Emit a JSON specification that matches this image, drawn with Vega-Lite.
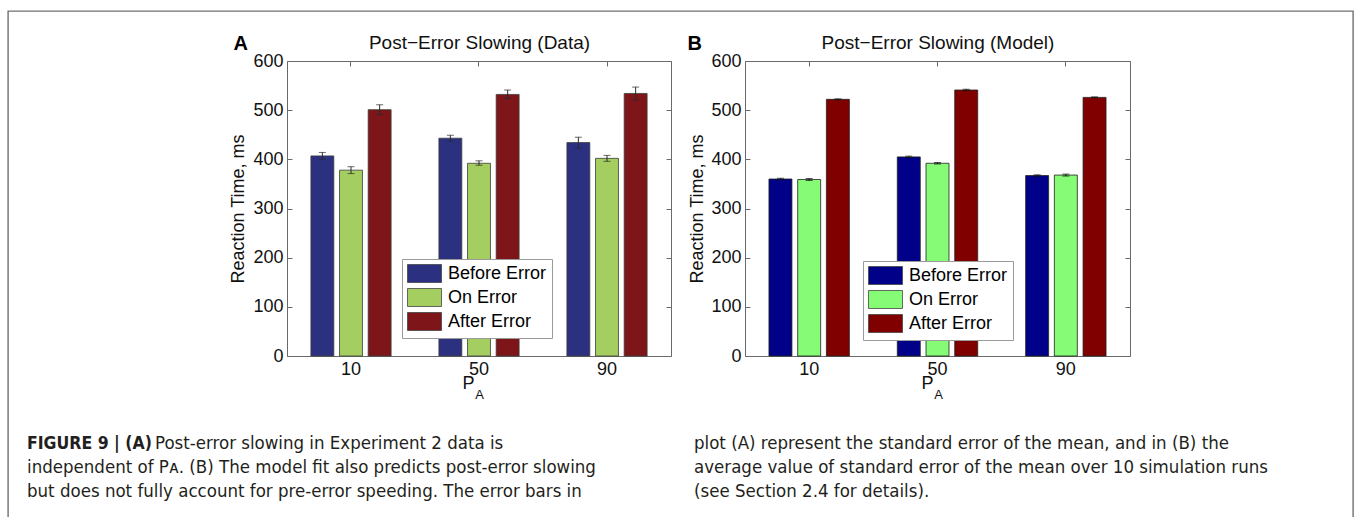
{
  "$schema": "https://vega.github.io/schema/vega-lite/v6.json",
  "width": 1345,
  "height": 520,
  "autosize": {"type": "none"},
  "padding": {"left": 8, "top": 11, "right": 1, "bottom": 0},
  "background": "white",
  "config": {
    "view": {"stroke": "#707070", "strokeWidth": 1.4},
    "font": "Liberation Sans",
    "axis": {
      "labelFont": "Liberation Sans", "labelFontSize": 18, "labelColor": "#111",
      "titleFont": "Liberation Sans", "titleFontSize": 18, "titleFontWeight": "normal", "titleColor": "#111",
      "domainColor": "#6a6a6a", "tickColor": "#6a6a6a", "grid": false,
      "tickSize": -5, "labelPadding": 9, "bandPosition": 0.5
    },
    "legend": {
      "orient": "none", "title": null,
      "symbolType": "M-1,-1H2.78V1H-1Z", "symbolSize": 324,
      "symbolStrokeColor": "#444", "symbolStrokeWidth": 0.8,
      "labelFont": "Liberation Sans", "labelFontSize": 18, "labelColor": "#000",
      "labelOffset": 22, "rowPadding": 1, "padding": 5,
      "strokeColor": "#9a9a9a", "fillColor": "white", "labelLimit": 300
    }
  },
  "datasets": {
    "rt": [
      {"panel": "Data", "pa": "10", "cond": "Before Error", "rt": 407, "lo": 400, "hi": 414},
      {"panel": "Data", "pa": "10", "cond": "On Error", "rt": 378, "lo": 371, "hi": 385},
      {"panel": "Data", "pa": "10", "cond": "After Error", "rt": 501, "lo": 491, "hi": 511},
      {"panel": "Data", "pa": "50", "cond": "Before Error", "rt": 443, "lo": 437, "hi": 449},
      {"panel": "Data", "pa": "50", "cond": "On Error", "rt": 392, "lo": 388, "hi": 397},
      {"panel": "Data", "pa": "50", "cond": "After Error", "rt": 532, "lo": 524, "hi": 541},
      {"panel": "Data", "pa": "90", "cond": "Before Error", "rt": 434, "lo": 423, "hi": 445},
      {"panel": "Data", "pa": "90", "cond": "On Error", "rt": 402, "lo": 396, "hi": 408},
      {"panel": "Data", "pa": "90", "cond": "After Error", "rt": 534, "lo": 521, "hi": 547},
      {"panel": "Model", "pa": "10", "cond": "Before Error", "rt": 360, "lo": 358.5, "hi": 361.5},
      {"panel": "Model", "pa": "10", "cond": "On Error", "rt": 359, "lo": 357, "hi": 361},
      {"panel": "Model", "pa": "10", "cond": "After Error", "rt": 522, "lo": 521, "hi": 523},
      {"panel": "Model", "pa": "50", "cond": "Before Error", "rt": 405, "lo": 403.5, "hi": 406.5},
      {"panel": "Model", "pa": "50", "cond": "On Error", "rt": 392, "lo": 390.5, "hi": 393.5},
      {"panel": "Model", "pa": "50", "cond": "After Error", "rt": 541, "lo": 539.5, "hi": 542.5},
      {"panel": "Model", "pa": "90", "cond": "Before Error", "rt": 367, "lo": 365.5, "hi": 368.5},
      {"panel": "Model", "pa": "90", "cond": "On Error", "rt": 368, "lo": 366, "hi": 370},
      {"panel": "Model", "pa": "90", "cond": "After Error", "rt": 526, "lo": 525, "hi": 527}
    ],
    "caption": [
      {"col": "left", "line": 1, "part": "lead", "text": "FIGURE 9 | (A)"},
      {"col": "left", "line": 1, "part": "rest", "text": "Post-error slowing in Experiment 2 data is"},
      {"col": "left", "line": 2, "part": "body", "text": "independent of Pᴀ. (B) The model fit also predicts post-error slowing"},
      {"col": "left", "line": 3, "part": "body", "text": "but does not fully account for pre-error speeding. The error bars in"},
      {"col": "right", "line": 1, "part": "body", "text": "plot (A) represent the standard error of the mean, and in (B) the"},
      {"col": "right", "line": 2, "part": "body", "text": "average value of standard error of the mean over 10 simulation runs"},
      {"col": "right", "line": 3, "part": "body", "text": "(see Section 2.4 for details)."}
    ]
  },
  "layer": [
    {
      "data": {"name": "rt"},
      "transform": [{"filter": "datum.panel === 'Data'"}],
      "layer": [
        {
          "mark": {"type": "bar", "stroke": "#3c3c3c", "strokeWidth": 0.8},
          "encoding": {
            "x": {"field": "pa", "type": "ordinal", "scale": {"range": [279, 663], "paddingInner": 0.36, "paddingOuter": 0.18},
                  "axis": {"orient": "bottom", "offset": -175, "labelAngle": 0, "title": "P", "titleX": 460, "titleY": 32, "titleAlign": "center", "titleBaseline": "alphabetic"}},
            "xOffset": {"field": "cond", "type": "nominal", "sort": ["Before Error", "On Error", "After Error"], "scale": {"paddingInner": 0.2, "paddingOuter": 0.03}},
            "y": {"field": "rt", "type": "quantitative", "scale": {"domain": [0, 600], "range": [345, 50], "nice": false},
                  "axis": {"orient": "left", "offset": -279, "values": [0, 100, 200, 300, 400, 500, 600], "title": "Reaction Time, ms", "titleAngle": 270, "titleX": -48.5, "titleY": 197.5, "titleAlign": "center", "titleBaseline": "middle"}},
            "color": {"field": "cond", "type": "nominal", "sort": ["Before Error", "On Error", "After Error"],
                      "scale": {"domain": ["Before Error", "On Error", "After Error"], "range": ["#2b3080", "#a4cf60", "#7d1519"]},
                      "legend": {"legendX": 394, "legendY": 248}}
          }
        },
        {
          "mark": {"type": "rule", "color": "#2a2a2a", "strokeWidth": 1},
          "encoding": {
            "x": {"field": "pa", "type": "ordinal",
                  "axis": {"orient": "top", "offset": -50, "labels": false, "title": "Post−Error Slowing (Data)", "titleFontSize": 19, "titleY": -13, "titleBaseline": "alphabetic"}},
            "xOffset": {"field": "cond", "type": "nominal", "sort": ["Before Error", "On Error", "After Error"]},
            "y": {"field": "lo", "type": "quantitative",
                  "axis": {"orient": "right", "offset": -682, "labels": false, "values": [0, 100, 200, 300, 400, 500, 600], "title": "A", "titleAngle": 0, "titleX": -438, "titleY": 38, "titleAlign": "left", "titleBaseline": "alphabetic", "titleFontWeight": "bold", "titleFontSize": 20, "titleColor": "#000"}},
            "y2": {"field": "hi"}
          }
        },
        {
          "mark": {"type": "tick", "color": "#2a2a2a", "size": 7, "thickness": 1},
          "encoding": {
            "x": {"field": "pa", "type": "ordinal",
                  "axis": {"orient": "bottom", "offset": -175, "labels": false, "ticks": false, "domain": false, "title": "A", "titleX": 471, "titleY": 42, "titleFontSize": 13, "titleAlign": "center", "titleBaseline": "alphabetic"}},
            "xOffset": {"field": "cond", "type": "nominal", "sort": ["Before Error", "On Error", "After Error"]},
            "y": {"field": "lo", "type": "quantitative", "axis": null}
          }
        },
        {
          "mark": {"type": "tick", "color": "#2a2a2a", "size": 7, "thickness": 1},
          "encoding": {
            "x": {"field": "pa", "type": "ordinal", "axis": null},
            "xOffset": {"field": "cond", "type": "nominal", "sort": ["Before Error", "On Error", "After Error"]},
            "y": {"field": "hi", "type": "quantitative", "axis": null}
          }
        }
      ],
      "resolve": {"axis": {"x": "independent", "y": "independent"}}
    },
    {
      "data": {"name": "rt"},
      "transform": [{"filter": "datum.panel === 'Model'"}],
      "layer": [
        {
          "mark": {"type": "bar", "stroke": "#222", "strokeWidth": 0.8},
          "encoding": {
            "x": {"field": "pa", "type": "ordinal", "scale": {"range": [737, 1122], "paddingInner": 0.36, "paddingOuter": 0.18},
                  "axis": {"orient": "bottom", "offset": -175, "labelAngle": 0, "title": "P", "titleX": 919, "titleY": 32, "titleAlign": "center", "titleBaseline": "alphabetic"}},
            "xOffset": {"field": "cond", "type": "nominal", "sort": ["Before Error", "On Error", "After Error"], "scale": {"paddingInner": 0.2, "paddingOuter": 0.03}},
            "y": {"field": "rt", "type": "quantitative", "scale": {"domain": [0, 600], "range": [345, 50], "nice": false},
                  "axis": {"orient": "left", "offset": -737, "values": [0, 100, 200, 300, 400, 500, 600], "title": "Reaction Time, ms", "titleAngle": 270, "titleX": -48, "titleY": 197.5, "titleAlign": "center", "titleBaseline": "middle"}},
            "color": {"field": "cond", "type": "nominal", "sort": ["Before Error", "On Error", "After Error"],
                      "scale": {"domain": ["Before Error", "On Error", "After Error"], "range": ["#000088", "#86fb76", "#800000"]},
                      "legend": {"legendX": 855, "legendY": 250}}
          }
        },
        {
          "mark": {"type": "rule", "color": "#111", "strokeWidth": 1},
          "encoding": {
            "x": {"field": "pa", "type": "ordinal",
                  "axis": {"orient": "top", "offset": -50, "labels": false, "title": "Post−Error Slowing (Model)", "titleFontSize": 19, "titleY": -13, "titleBaseline": "alphabetic"}},
            "xOffset": {"field": "cond", "type": "nominal", "sort": ["Before Error", "On Error", "After Error"]},
            "y": {"field": "lo", "type": "quantitative",
                  "axis": {"orient": "right", "offset": -223, "labels": false, "values": [0, 100, 200, 300, 400, 500, 600], "title": "B", "titleAngle": 0, "titleX": -443, "titleY": 38, "titleAlign": "left", "titleBaseline": "alphabetic", "titleFontWeight": "bold", "titleFontSize": 20, "titleColor": "#000"}},
            "y2": {"field": "hi"}
          }
        },
        {
          "mark": {"type": "tick", "color": "#111", "size": 7, "thickness": 1},
          "encoding": {
            "x": {"field": "pa", "type": "ordinal",
                  "axis": {"orient": "bottom", "offset": -175, "labels": false, "ticks": false, "domain": false, "title": "A", "titleX": 930, "titleY": 42, "titleFontSize": 13, "titleAlign": "center", "titleBaseline": "alphabetic"}},
            "xOffset": {"field": "cond", "type": "nominal", "sort": ["Before Error", "On Error", "After Error"]},
            "y": {"field": "lo", "type": "quantitative", "axis": null}
          }
        },
        {
          "mark": {"type": "tick", "color": "#111", "size": 7, "thickness": 1},
          "encoding": {
            "x": {"field": "pa", "type": "ordinal", "axis": null},
            "xOffset": {"field": "cond", "type": "nominal", "sort": ["Before Error", "On Error", "After Error"]},
            "y": {"field": "hi", "type": "quantitative", "axis": null}
          }
        }
      ],
      "resolve": {"axis": {"x": "independent", "y": "independent"}}
    },
    {
      "data": {"name": "caption"},
      "encoding": {
        "x": {"field": "col", "type": "ordinal", "scale": {"type": "point", "domain": ["left", "right"], "range": [19, 686], "padding": 0}, "axis": null},
        "y": {"field": "line", "type": "quantitative", "scale": {"domain": [1, 3], "range": [438, 486]}, "axis": null}
      },
      "layer": [
        {
          "transform": [{"filter": "datum.part === 'lead'"}],
          "mark": {"type": "text", "align": "left", "baseline": "alphabetic", "font": "DejaVu Sans Condensed, sans-serif", "fontSize": 17.5, "fontWeight": "bold", "color": "#231f20"},
          "encoding": {"text": {"field": "text"}}
        },
        {
          "transform": [{"filter": "datum.part === 'rest'"}],
          "mark": {"type": "text", "align": "left", "baseline": "alphabetic", "dx": 128, "font": "DejaVu Sans Condensed, sans-serif", "fontSize": 18.5, "color": "#231f20"},
          "encoding": {"text": {"field": "text"}}
        },
        {
          "transform": [{"filter": "datum.part === 'body'"}],
          "mark": {"type": "text", "align": "left", "baseline": "alphabetic", "font": "DejaVu Sans Condensed, sans-serif", "fontSize": 18.5, "color": "#231f20"},
          "encoding": {"text": {"field": "text"}}
        }
      ]
    }
  ],
  "resolve": {
    "scale": {"x": "independent", "y": "independent", "xOffset": "independent", "color": "independent"},
    "axis": {"x": "independent", "y": "independent"},
    "legend": {"color": "independent"}
  }
}
